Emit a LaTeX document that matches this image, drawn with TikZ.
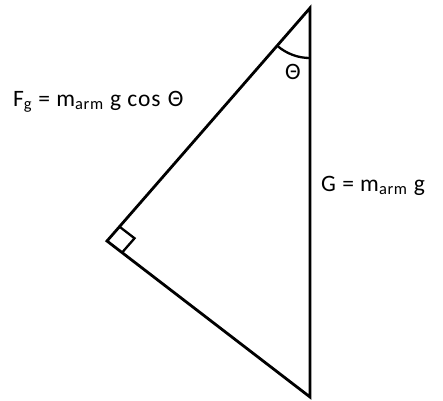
\documentclass[tikz,border=0pt]{standalone}
\usepackage{fontspec}
\setmainfont[LetterSpace=4]{Carlito}
\usetikzlibrary{calc}

\begin{document}
\begin{tikzpicture}[
  x=1pt, y=-1pt,
  every node/.style={font=\fontsize{23.5}{28}\selectfont, inner sep=0pt},
  side/.style={line width=2.8pt, line join=miter},
  anglemark/.style={line width=2.3pt}]
  \useasboundingbox (0,0) rectangle (443,400);
  % corners
  \coordinate (top)    at (310,8);
  \coordinate (left)   at (107,241);
  \coordinate (bottom) at (310,397);
  % triangle
  \draw[side] (top) -- (left) -- (bottom) -- cycle;
  % right angle and angle arc
  \coordinate (ra1) at ($(left)!19pt!(top)$);
  \coordinate (ra2) at ($(left)!19pt!(bottom)$);
  \coordinate (ra3) at ($(ra1)+(ra2)-(left)$);
  \draw[anglemark] (ra1) -- (ra3) -- (ra2);
  \draw[anglemark] ($(top)!50pt!(left)$) arc[start angle=131.1, end angle=90, radius=50];
  % labels
  \node (theta) at (293,72) {Θ};
  \node[anchor=base west] (fg) at (13,106) {F\textsubscript{g} = m\textsubscript{arm} g cos\hspace{1pt} Θ};
  \node[anchor=base west] (g)  at (321,191) {G = m\textsubscript{arm} g};
\end{tikzpicture}
\end{document}
